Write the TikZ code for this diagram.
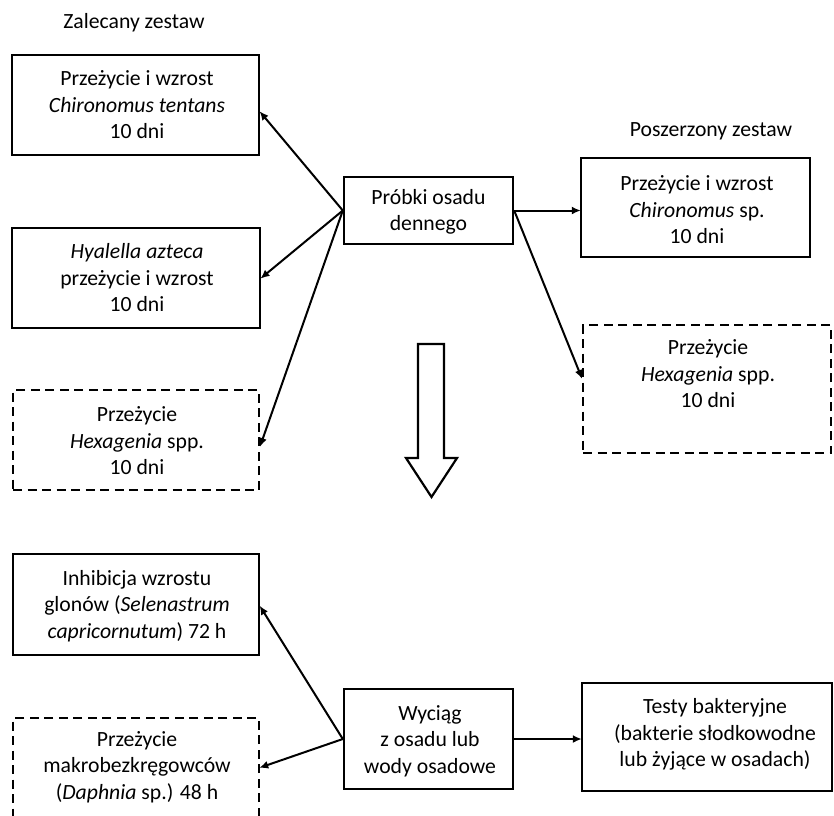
\documentclass[tikz,border=0pt]{standalone}
\usepackage{fontspec}
\setmainfont{Carlito}
\usetikzlibrary{arrows.meta,calc}

\tikzset{
  txt/.style={font=\fontsize{21.7}{26.5}\selectfont, align=center, inner sep=0pt},
  solidbox/.style={draw, line width=2.4pt, rectangle, inner sep=0pt},
  dashbox/.style={solidbox, dash pattern=on 9pt off 5.5pt},
  link/.style={line width=2pt, -{Latex[length=9pt,width=8pt]}, shorten >=-1pt},
  blockarrow/.style={draw, line width=2.2pt, fill=white, line join=miter}
}

\begin{document}
\begin{tikzpicture}[x=1pt,y=-1pt]
\clip (0,0) rectangle (834,815);
\fill[white] (0,0) rectangle (834,815);

% group headings
\node[txt] (hleft) at (134,23) {Zalecany zestaw};
\node[txt] (hright) at (711,131) {Poszerzony zestaw};

% source sample
\node[solidbox, minimum width=169pt, minimum height=67pt] (probki) at (428.5,210.5) {};
\node[txt] at (428.5,212) {Próbki osadu\\dennego};

% recommended set
\node[solidbox, minimum width=247pt, minimum height=100pt] (b1) at (135.5,105) {};
\node[txt] at (137,105) {Przeżycie i wzrost\\\textit{Chironomus tentans}\\10 dni};

\node[solidbox, minimum width=248pt, minimum height=100pt] (b2) at (136,278) {};
\node[txt] at (137,278) {\textit{Hyalella azteca}\\przeżycie i wzrost\\10 dni};

\node[dashbox, minimum width=246pt, minimum height=100pt] (b3) at (136,440) {};
\node[txt] at (137,441) {Przeżycie\\\textit{Hexagenia} spp.\\10 dni};

% extended set
\node[solidbox, minimum width=229pt, minimum height=99pt] (r1) at (695.5,207.5) {};
\node[txt] at (697,210) {Przeżycie i wzrost\\\textit{Chironomus} sp.\\10 dni};

\node[dashbox, minimum width=248pt, minimum height=128pt] (r2) at (707,389) {};
\node[txt] at (708,374) {Przeżycie\\\textit{Hexagenia} spp.\\10 dni};

% extract / pore water tests
\node[solidbox, minimum width=169pt, minimum height=100pt] (wyciag) at (428.5,739) {};
\node[txt] at (430,741) {Wyciąg\\z osadu lub\\wody osadowe};

\node[solidbox, minimum width=246pt, minimum height=101pt] (inh) at (136,604.5) {};
\node[txt] at (137,606) {Inhibicja wzrostu\\glonów (\textit{Selenastrum}\\\textit{capricornutum}) 72 h};

\node[dashbox, minimum width=246pt, minimum height=99pt] (daph) at (136,767.5) {};
\node[txt] at (137,767) {Przeżycie\\makrobezkręgowców\\(\textit{Daphnia} sp.) 48 h};

\node[solidbox, minimum width=250pt, minimum height=108pt] (testy) at (707,737) {};
\node[txt] at (715,734.5) {Testy bakteryjne\\(bakterie słodkowodne\\lub żyjące w osadach)};

% connectors from the sediment sample
\draw[link] (probki.west) -- ($(b1.east)+(0,7)$);
\draw[link] (probki.west) -- (b2.east);
\draw[link] (probki.west) -- ($(b3.east)+(0,6)$);
\draw[link] (probki.east) -- (probki.east -| r1.west);
\draw[link] (probki.east) -- ($(r2.west)+(0,-11)$);

% connectors from the extract
\draw[link] (wyciag.west) -- ($(inh.east)+(0,2)$);
\draw[link] (wyciag.west) -- (daph.east);
\draw[link] (wyciag.east) -- (wyciag.east -| testy.west);

% hollow block arrow between the two stages
\draw[blockarrow] (418,344) -- (444,344) -- (444,458) -- (457,458)
  -- (431.5,497) -- (406,458) -- (418,458) -- cycle;
\end{tikzpicture}
\end{document}
